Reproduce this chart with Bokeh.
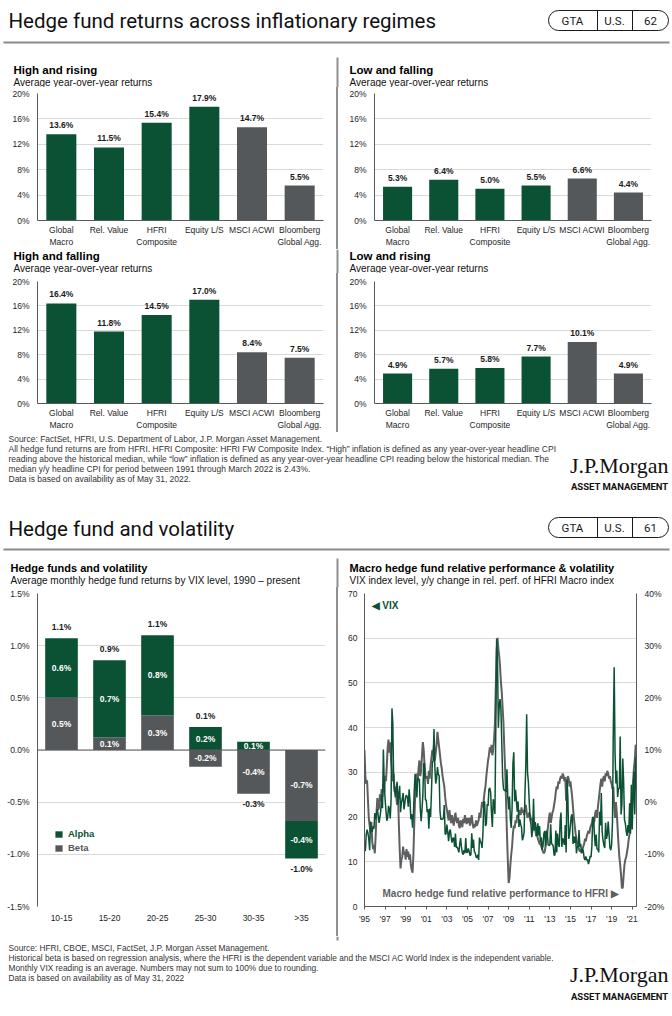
import pandas as pd
from bokeh.plotting import figure
from bokeh.models import (ColumnDataSource, FactorRange, Range1d, FixedTicker,
                          PrintfTickFormatter, CustomJSTickFormatter, Label, LabelSet,
                          Legend, LegendItem, LinearAxis, BoxAnnotation, Span, Div)
from bokeh.layouts import column, row
from bokeh.core.properties import value
from bokeh.embed import file_html
from bokeh.resources import INLINE

GREEN = "#0b5234"
GRAY = "#55585a"
LINE_GRAY = "#5e5f61"
AXIS = "#595959"
GRID = "#d9d9d9"
TICK = "#262626"
DIVIDER = "#8f8f8f"
FONT = "Liberation Sans"
HFONT = "Roboto"

# ---------------- data: inflation regimes ----------------
categories = ["Global\nMacro", "Rel. Value", "HFRI\nComposite", "Equity L/S",
              "MSCI ACWI", "Bloomberg\nGlobal Agg."]
bar_colors = [GREEN, GREEN, GREEN, GREEN, GRAY, GRAY]
high_rising = [13.6, 11.5, 15.4, 17.9, 14.7, 5.5]
low_falling = [5.3, 6.4, 5.0, 5.5, 6.6, 4.4]
high_falling = [16.4, 11.8, 14.5, 17.0, 8.4, 7.5]
low_rising = [4.9, 5.7, 5.8, 7.7, 10.1, 4.9]
pct_ticks = [0, 4, 8, 12, 16, 20]

# ---------------- data: hedge funds and volatility ----------------
vix_buckets = ["10-15", "15-20", "20-25", "25-30", "30-35", ">35"]
alpha = [0.57, 0.74, 0.77, 0.22, 0.08, -0.36]
beta = [0.50, 0.12, 0.33, -0.16, -0.42, -0.68]
vol_ticks = [-1.5, -1.0, -0.5, 0.0, 0.5, 1.0, 1.5]

# ---------------- data: VIX (month end) and macro relative perf, Dec-1995 .. May-2022 ----------------
vix = [
    12.5,
    12.5, 16.1, 17.2, 16.4, 15.1, 12.6, 19.0, 17.0, 16.7, 18.0, 17.4, 20.9,   # 1996
    19.5, 20.7, 21.8, 20.3, 18.7, 20.0, 21.5, 25.0, 22.0, 35.1, 27.5, 24.0,   # 1997
    21.5, 19.2, 19.8, 22.5, 21.8, 19.7, 24.0, 44.3, 40.9, 28.1, 26.0, 24.4,   # 1998
    26.3, 27.9, 22.8, 25.1, 27.0, 21.1, 23.2, 24.1, 25.4, 21.7, 23.1, 24.6,   # 1999
    24.9, 24.4, 22.3, 26.2, 23.7, 19.5, 20.7, 17.6, 20.6, 26.0, 29.7, 26.9,   # 2000
    24.4, 28.6, 28.6, 28.3, 21.9, 19.1, 21.6, 24.9, 31.9, 32.1, 23.8, 23.8,   # 2001
    21.1, 21.8, 17.4, 21.9, 20.0, 25.4, 32.0, 32.6, 39.7, 31.1, 27.5, 28.6,   # 2002
    31.2, 29.6, 29.2, 21.2, 19.5, 19.5, 19.5, 19.8, 22.7, 16.1, 16.3, 18.3,   # 2003
    16.6, 14.6, 16.7, 17.2, 15.5, 14.3, 15.3, 15.3, 13.3, 16.3, 13.2, 13.3,   # 2004
    12.8, 12.1, 14.0, 15.3, 13.3, 12.0, 11.6, 12.6, 11.9, 15.3, 12.1, 12.1,   # 2005
    13.0, 12.3, 11.4, 11.6, 16.4, 13.1, 15.0, 12.3, 12.0, 11.1, 10.9, 11.6,   # 2006
    10.4, 15.4, 14.6, 14.2, 13.1, 16.2, 23.5, 23.4, 18.0, 18.5, 22.9, 22.5,   # 2007
    26.2, 26.5, 25.6, 20.8, 17.8, 24.0, 22.9, 20.7, 39.4, 59.9, 55.3, 40.0,   # 2008
    44.8, 46.4, 44.1, 36.5, 28.9, 26.4, 25.9, 26.0, 25.6, 30.7, 24.5, 21.7,   # 2009
    24.6, 19.5, 17.6, 22.1, 32.1, 34.5, 23.5, 26.1, 23.7, 21.2, 23.5, 17.8,   # 2010
    19.5, 18.4, 17.7, 14.8, 15.5, 16.5, 25.3, 31.6, 43.0, 30.0, 27.8, 23.4,   # 2011
    19.4, 18.4, 15.5, 17.2, 24.1, 17.1, 18.9, 17.5, 15.7, 18.6, 15.9, 18.0,   # 2012
    14.3, 15.5, 12.7, 13.5, 16.3, 16.9, 13.5, 17.0, 16.6, 13.8, 13.7, 13.7,   # 2013
    18.4, 14.0, 13.9, 13.4, 11.4, 11.6, 17.0, 12.1, 16.3, 14.0, 13.3, 19.2,   # 2014
    21.0, 13.3, 15.3, 14.6, 13.8, 18.2, 12.1, 28.4, 24.5, 15.1, 16.1, 18.2,   # 2015
    20.2, 20.6, 14.0, 15.7, 14.2, 15.6, 11.9, 13.4, 13.3, 17.1, 13.3, 14.0,   # 2016
    12.0, 12.9, 12.4, 10.8, 10.4, 11.2, 10.3, 10.6, 9.5, 10.2, 11.3, 11.0,    # 2017
    13.5, 19.9, 20.0, 15.9, 13.5, 16.1, 12.8, 12.9, 12.1, 21.2, 18.1, 25.4,   # 2018
    16.6, 14.8, 13.7, 13.1, 18.7, 15.1, 16.1, 19.0, 16.2, 13.2, 12.6, 13.8,   # 2019
    18.8, 40.1, 53.5, 34.2, 27.5, 30.4, 24.5, 26.4, 26.4, 38.0, 20.6, 22.8,   # 2020
    33.1, 28.0, 19.4, 18.6, 16.8, 15.8, 18.2, 16.5, 23.1, 16.3, 27.2, 17.2,   # 2021
    24.8, 30.2, 20.6, 33.4, 26.2,                                             # 2022
]
macro_rel = [
    10.0,
    5.0, 3.5, 4.2, 0.5, -3.0, -4.5, -6.0, -3.8, -7.5, -9.0, -8.2, -9.8,       # 1996
    -6.5, -2.0, 0.8, -1.5, -1.0, 1.5, 0.2, 2.5, 1.0, 3.5, 2.0, 5.0,           # 1997
    4.0, 7.0, 10.5, 12.0, 9.5, 11.5, 8.0, 6.0, 4.0, 5.5, 2.0, 3.0,            # 1998
    1.0, -0.5, 2.0, -4.0, -9.0, -12.7, -11.0, -10.5, -8.5, -10.0, -9.5, -11.0,  # 1999
    -9.0, -10.5, -9.5, -11.0, -10.0, -12.0, -13.0, -13.5, -10.0, -4.0, 1.0, 3.5,  # 2000
    5.5, 4.0, 6.5, 8.0, 5.0, 6.0, 9.0, 11.5, 10.0, 7.0, 5.0, 4.5,             # 2001
    5.0, 3.5, 6.0, 4.5, 7.0, 8.5, 10.0, 9.0, 11.0, 8.0, 9.5, 11.0,            # 2002
    13.5, 12.0, 10.5, 9.0, 7.5, 6.5, 5.0, 4.0, 3.0, 1.0, -0.5, -1.5,          # 2003
    -2.5, -3.5, -1.5, -3.0, -4.0, -2.5, -3.5, -4.5, -3.0, -2.0, -3.5, -4.0,   # 2004
    -3.0, -4.5, -5.0, -3.5, -4.0, -4.8, -3.2, -4.0, -2.5, -3.5, -4.2, -3.0,   # 2005
    -4.0, -3.0, -4.5, -3.5, -2.5, -4.0, -5.0, -4.2, -4.8, -3.5, -4.5, -4.0,   # 2006
    -3.5, -2.0, -3.0, -1.5, 0.0, -1.0, 0.5, 2.0, 3.0, 5.0, 6.5, 8.0,          # 2007
    9.0, 10.5, 9.5, 11.0, 9.0, 10.0, 12.0, 15.0, 22.0, 29.0, 31.5, 29.5,      # 2008
    28.0, 26.0, 23.0, 21.0, 18.0, 15.0, 10.0, 6.0, 0.0, -6.0, -11.0, -15.5,   # 2009
    -14.5, -12.0, -10.0, -8.5, -6.0, -4.5, -5.0, -3.5, -4.0, -2.5, -3.0, -2.0,  # 2010
    -1.5, -2.5, -1.0, -2.0, -1.5, -2.5, -1.0, -0.5, -2.0, -3.0, -2.5, -2.0,   # 2011
    -2.5, -3.5, -3.0, -4.5, -4.0, -5.5, -5.0, -6.5, -6.0, -7.0, -7.5, -8.0,   # 2012
    -8.0, -8.5, -9.0, -9.5, -9.8, -9.5, -8.5, -7.0, -6.0, -4.5, -3.0, -2.0,   # 2013
    -4.0, -3.0, -2.0, -1.5, -0.5, 0.5, 2.0, 3.0, 2.5, 4.0, 3.5, 4.5,          # 2014
    5.0, 4.5, 5.5, 5.0, 4.0, 4.8, 0.3, 3.5, 5.0, 4.5, 3.0, 4.0,               # 2015
    2.5, 1.0, -1.0, -3.0, -4.5, -6.0, -7.0, -8.0, -8.5, -9.0, -9.5, -9.0,     # 2016
    -9.8, -9.0, -8.5, -8.0, -7.0, -7.5, -6.5, -6.0, -5.5, -6.0, -5.0, -4.5,   # 2017
    -4.0, -3.0, -4.0, -3.5, -2.0, -1.5, -3.0, -1.0, 0.5, 2.0, 3.5, 4.5,       # 2018
    3.0, 4.5, 5.0, 4.0, 5.5, 5.0, 6.0, 5.5, 4.5, 5.0, 4.0, 3.5,               # 2019
    2.5, 3.0, -1.0, -3.0, 0.0, -2.0, -5.0, -8.0, -10.5, -12.0, -14.0, -16.5,  # 2020
    -16.4, -14.0, -12.0, -11.0, -10.5, -9.5, -8.5, -7.0, -6.0, -4.0, -1.0, 2.0,  # 2021
    4.0, 6.5, 8.0, 11.0, 10.0,                                                # 2022
]
tick_years = [1995, 1997, 1999, 2001, 2003, 2005, 2007, 2009, 2011, 2013, 2015, 2017, 2019, 2021]
left_ticks = [0, 10, 20, 30, 40, 50, 60, 70]
right_ticks = [-20, -10, 0, 10, 20, 30, 40]


def month_years(n):
    d = pd.date_range("1995-12-01", periods=n, freq="MS")
    return list(d.year + (d.month - 1) / 12.0)


# ---------------- helpers ----------------
def canvas(w, h):
    p = figure(width=w, height=h, x_range=Range1d(0, w), y_range=Range1d(0, h),
               x_axis_location=None, y_axis_location=None, output_backend="svg",
               toolbar_location=None, min_border=0, title=None)
    p.grid.visible = False
    p.outline_line_color = None
    return p


def put(p, h, x, y, s, size, color="#000000", style="normal", align="left", font=FONT):
    p.add_layout(Label(x=x, y=h - y, text=s, text_font=font, text_font_size=f"{size}px",
                       text_font_style=style, text_color=color, text_align=align,
                       text_baseline="middle"))


def box(p, h, left, right, top, bottom, fill=None, line=None, radius=0):
    p.add_layout(BoxAnnotation(left=left, right=right, top=h - top, bottom=h - bottom,
                               fill_color=fill if fill else "white",
                               fill_alpha=1 if fill else 0,
                               line_color=line if line else "white",
                               line_alpha=1 if line else 0,
                               line_width=1, border_radius=radius))


def header(title, num, h, ty, py, ry):
    p = canvas(672, h)
    put(p, h, 8, ty, title, 20.5, "#111111", font=HFONT)
    box(p, h, 548, 668, py - 10, py + 10, line="#1a1a1a", radius=10)
    box(p, h, 596.5, 597.5, py - 10, py + 10, fill="#1a1a1a")
    box(p, h, 631.5, 632.5, py - 10, py + 10, fill="#1a1a1a")
    put(p, h, 572, py, "GTA", 11.5, "#1a1a1a", align="center", font=HFONT)
    put(p, h, 614, py, "U.S.", 11.5, "#1a1a1a", align="center", font=HFONT)
    put(p, h, 650, py, num, 11.5, "#1a1a1a", align="center", font=HFONT)
    box(p, h, 3, 669, ry - 1, ry + 1, fill="#8a8a8a")
    return p


def source_block(lines, h, y0, jy, ay, size, div_top=None):
    p = canvas(672, h)
    if div_top is not None:
        box(p, h, 336, 338, 0, div_top, fill=DIVIDER)
    for i, s in enumerate(lines):
        put(p, h, 8, y0 + 10 * i, s, size, "#333333")
    put(p, h, 668, jy, "J.P.Morgan", 22, "#111111", align="right", font="Liberation Serif")
    put(p, h, 668, ay, "ASSET MANAGEMENT", 9.5, "#111111", style="bold", align="right", font="Roboto")
    return p


def title_band(h, y, left, right, tsize=11.5, div_from=0):
    """Canvas holding the two panel titles of one band plus the divider piece."""
    p = canvas(672, h)
    box(p, h, 336, 338, div_from, h, fill=DIVIDER)
    for x, (t, s) in ((13 if tsize > 11 else 10, left), (349, right)):
        put(p, h, x, y, t, tsize, "#000000", style="bold")
        put(p, h, x, y + 12.5, s, 10, "#111111")
    return p


def base_fig(w, h, top, bottom, left, right, **kw):
    p = figure(width=w, height=h, output_backend="svg", toolbar_location=None, title=None,
               min_border_top=top, min_border_bottom=bottom, min_border_left=left,
               min_border_right=right, **kw)
    p.outline_line_color = None
    return p


def style_axis(ax):
    ax.axis_line_color = AXIS
    ax.axis_line_width = 1
    ax.major_tick_line_color = None
    ax.minor_tick_line_color = None
    ax.major_tick_out = 0
    ax.major_tick_in = 0
    ax.minor_tick_out = 0
    ax.minor_tick_in = 0
    ax.major_label_text_font = FONT
    ax.major_label_text_font_size = "8.5px"
    ax.major_label_text_color = TICK


def regime_panel(vals, w, h, top, bottom, left, right):
    src = ColumnDataSource(dict(cat=categories, val=vals, color=bar_colors,
                                lab=[f"{v:.1f}%" for v in vals]))
    p = base_fig(w, h, top, bottom, left, right,
                 x_range=FactorRange(*categories), y_range=Range1d(0, 20))
    p.vbar(x="cat", top="val", width=0.63, fill_color="color", line_color=None, source=src)
    p.add_layout(LabelSet(x="cat", y="val", text="lab", source=src, y_offset=4,
                          text_align=value("center"), text_baseline=value("bottom"),
                          text_font=value(FONT), text_font_size=value("8.5px"),
                          text_font_style=value("bold"), text_color=value("#1a1a1a")))
    style_axis(p.xaxis[0])
    style_axis(p.yaxis[0])
    p.yaxis.ticker = FixedTicker(ticks=pct_ticks)
    p.yaxis.formatter = PrintfTickFormatter(format="%d%%")
    p.yaxis.major_label_standoff = 8
    p.xaxis.major_label_standoff = 4
    p.xgrid.grid_line_color = None
    p.ygrid.grid_line_color = GRID
    return p


def vdiv(h, top=0):
    return Div(text="", width=2, height=h - top, margin=(top, 0, 0, 0),
               styles={"background-color": DIVIDER})


SUB = "Average year-over-year returns"

# ---------------- top section ----------------
h1 = header("Hedge fund returns across inflationary regimes", "62", 52, 20, 20, 42)

band1 = title_band(35, 17, ("High and rising", SUB), ("Low and falling", SUB), div_from=5)
tl = regime_panel(high_rising, 336, 162, 6, 28, 37, 13)
tr = regime_panel(low_falling, 334, 162, 6, 29, 36, 21)
row1 = row(tl, vdiv(162), tr)

band2 = title_band(24, 6, ("High and falling", SUB), ("Low and rising", SUB))
ml = regime_panel(high_falling, 336, 159, 5, 27, 37, 13)
mr = regime_panel(low_rising, 334, 159, 8, 26, 36, 21)
row2 = row(ml, vdiv(159), mr)

src1 = source_block([
    "Source: FactSet, HFRI, U.S. Department of Labor, J.P. Morgan Asset Management.",
    "All hedge fund returns are from HFRI. HFRI Composite: HFRI FW Composite Index. \u201cHigh\u201d inflation is defined as any year-over-year headline CPI",
    "reading above the historical median, while \u201clow\u201d inflation is defined as any year-over-year headline CPI reading below the historical median. The",
    "median y/y headline CPI for period between 1991 through March 2022 is 2.43%.",
    "Data is based on availability as of May 31, 2022.",
], 73, 6, 33, 54, 8.5)

# ---------------- bottom section ----------------
h2 = header("Hedge fund and volatility", "61", 51, 23, 22, 44)

band3 = title_band(31, 11, ("Hedge funds and volatility",
                            "Average monthly hedge fund returns by VIX level, 1990 \u2013 present"),
                   ("Macro hedge fund relative performance & volatility",
                    "VIX index level, y/y change in rel. perf. of HFRI Macro index"),
                   tsize=11, div_from=2)

# stacked alpha / beta
pos_base = [0.0] * 6
neg_base = [0.0] * 6
seg = {}
for name, series in (("b", beta), ("a", alpha)):
    bots, tops = [], []
    for i, v in enumerate(series):
        if v >= 0:
            b, t = pos_base[i], pos_base[i] + v
            pos_base[i] = t
        else:
            t, b = neg_base[i], neg_base[i] + v
            neg_base[i] = b
        bots.append(b)
        tops.append(t)
    seg[name] = (bots, tops)

vsrc = ColumnDataSource(dict(
    cat=vix_buckets,
    a_bot=seg["a"][0], a_top=seg["a"][1], b_bot=seg["b"][0], b_top=seg["b"][1],
    a_mid=[(x + y) / 2 for x, y in zip(*seg["a"])],
    b_mid=[(x + y) / 2 for x, y in zip(*seg["b"])],
    a_lab=[f"{v:.1f}%" for v in alpha], b_lab=[f"{v:.1f}%" for v in beta],
))
totals = [a + b for a, b in zip(alpha, beta)]
pos_src = ColumnDataSource(dict(
    cat=[c for c, t in zip(vix_buckets, totals) if t >= 0],
    y=[pb for pb, t in zip(pos_base, totals) if t >= 0],
    lab=[f"{t:.1f}%" for t in totals if t >= 0]))
neg_src = ColumnDataSource(dict(
    cat=[c for c, t in zip(vix_buckets, totals) if t < 0],
    y=[nb for nb, t in zip(neg_base, totals) if t < 0],
    lab=[f"{t:.1f}%" for t in totals if t < 0]))

bl = base_fig(336, 349, 6, 30, 37, 11, x_range=FactorRange(*vix_buckets),
              y_range=Range1d(-1.5, 1.5))
beta_r = bl.vbar(x="cat", bottom="b_bot", top="b_top", width=0.68, fill_color=GRAY,
                 line_color=None, source=vsrc)
alpha_r = bl.vbar(x="cat", bottom="a_bot", top="a_top", width=0.68, fill_color=GREEN,
                  line_color=None, source=vsrc)
for ycol, tcol in (("a_mid", "a_lab"), ("b_mid", "b_lab")):
    bl.add_layout(LabelSet(x="cat", y=ycol, text=tcol, source=vsrc,
                           text_align=value("center"), text_baseline=value("middle"),
                           text_font=value(FONT), text_font_size=value("8.5px"),
                           text_font_style=value("bold"), text_color=value("#ffffff")))
bl.add_layout(LabelSet(x="cat", y="y", text="lab", source=pos_src, y_offset=6,
                       text_align=value("center"), text_baseline=value("bottom"),
                       text_font=value(FONT), text_font_size=value("8.5px"),
                       text_font_style=value("bold"), text_color=value("#1a1a1a")))
bl.add_layout(LabelSet(x="cat", y="y", text="lab", source=neg_src, y_offset=-5,
                       text_align=value("center"), text_baseline=value("top"),
                       text_font=value(FONT), text_font_size=value("8.5px"),
                       text_font_style=value("bold"), text_color=value("#1a1a1a")))
bl.add_layout(Span(location=0, dimension="width", line_color=AXIS, line_width=1))
style_axis(bl.xaxis[0])
style_axis(bl.yaxis[0])
bl.xaxis.axis_line_color = None
bl.xaxis.major_label_standoff = 6
bl.yaxis.ticker = FixedTicker(ticks=vol_ticks)
bl.yaxis.formatter = PrintfTickFormatter(format="%.1f%%")
bl.yaxis.major_label_standoff = 8
bl.xgrid.grid_line_color = None
bl.ygrid.grid_line_color = GRID
for lab, rend, col, ypos in (("Alpha", alpha_r, GREEN, 67), ("Beta", beta_r, GRAY, 53)):
    bl.add_layout(Legend(items=[LegendItem(label=lab, renderers=[rend])], location=(17, ypos),
                         padding=0, margin=0, spacing=0, glyph_width=9, glyph_height=8,
                         label_height=8, label_standoff=5, label_text_font=FONT,
                         label_text_font_size="9.5px", label_text_font_style="bold",
                         label_text_color=col, border_line_color=None,
                         background_fill_alpha=0))

# VIX vs macro relative performance
t_vix = month_years(len(vix))
t_rel = month_years(len(macro_rel))
br = base_fig(334, 349, 6, 30, 26, 36, x_range=Range1d(1995 + 11 / 12, 2022 + 4 / 12),
              y_range=Range1d(0, 70))
br.extra_y_ranges = {"rel": Range1d(-20, 40)}
br.line(x=t_rel, y=macro_rel, y_range_name="rel", line_color=LINE_GRAY, line_width=2)
br.line(x=t_vix, y=vix, line_color=GREEN, line_width=1.5)
rax = LinearAxis(y_range_name="rel", ticker=FixedTicker(ticks=right_ticks),
                 formatter=PrintfTickFormatter(format="%d%%"))
br.add_layout(rax, "right")
for ax in (br.xaxis[0], br.yaxis[0], rax):
    style_axis(ax)
br.yaxis[0].ticker = FixedTicker(ticks=left_ticks)
br.yaxis[0].major_label_standoff = 7
rax.major_label_standoff = 8
br.xaxis.ticker = FixedTicker(ticks=[y + 11 / 12 for y in tick_years])
br.xaxis.formatter = CustomJSTickFormatter(
    code="return \"'\" + String(Math.floor(tick + 0.01)).slice(2);")
br.xaxis.major_tick_line_color = AXIS
br.xaxis.major_tick_out = 3
br.xaxis.major_label_standoff = 4
br.xgrid.grid_line_color = None
br.ygrid.grid_line_color = GRID
br.add_layout(Label(x=7, y=301, x_units="screen", y_units="screen", text="\u25c0 VIX",
                    text_font=FONT, text_font_size="10px", text_font_style="bold",
                    text_color=GREEN, text_baseline="middle"))
br.add_layout(Label(x=18, y=13, x_units="screen", y_units="screen",
                    text="Macro hedge fund relative performance to HFRI \u25b6",
                    text_font=FONT, text_font_size="10px", text_font_style="bold",
                    text_color=LINE_GRAY, text_baseline="middle"))

row3 = row(bl, vdiv(349), br)

foot = source_block([
    "Source: HFRI, CBOE, MSCI, FactSet, J.P. Morgan Asset Management.",
    "Historical beta is based on regression analysis, where the HFRI is the dependent variable and the MSCI AC World Index is the independent variable.",
    "Monthly VIX reading is an average. Numbers may not sum to 100% due to rounding.",
    "Data is based on availability as of May 31, 2022",
], 80, 11, 38, 60, 8.3, div_top=4)

page = column(h1, band1, row1, band2, row2, src1, h2, band3, row3, foot)

with open("out.html", "w") as f:
    f.write(file_html(page, INLINE))
